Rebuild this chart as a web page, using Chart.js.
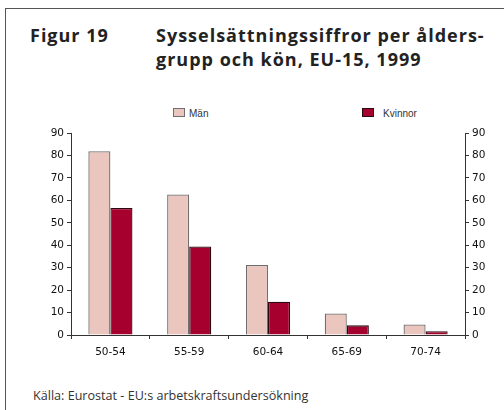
<!DOCTYPE html>
<html>
<head>
<meta charset="utf-8">
<script src="https://cdn.jsdelivr.net/npm/chart.js@4/dist/chart.umd.min.js"></script>
<style>
  html, body { margin:0; padding:0; background:#fff; }
  #wrap { position:relative; width:504px; height:410px; overflow:hidden; font-family:"Open Sans", sans-serif; }
  #frame { position:absolute; left:5px; top:8px; width:520px; height:420px; border-left:1.5px solid #555; border-top:1.5px solid #555; }
  #fig { position:absolute; left:30px; top:23px; font-weight:700; font-size:18px; letter-spacing:1px; color:#222; }
  #title { position:absolute; left:156px; top:23px; font-weight:700; font-size:18px; line-height:24px; letter-spacing:1px; color:#222; }
  #source { position:absolute; left:33px; top:387px; font-size:12.6px; color:#333; font-family:"Open Sans", sans-serif; }
  .leg { position:absolute; top:108px; font-size:10px; color:#333; font-family:"Liberation Sans", Arial, sans-serif; }
  .leg span.box { display:inline-block; width:10px; height:7px; vertical-align:0px; margin-right:4px; }
  canvas { position:absolute; left:0; top:0; }
</style>
</head>
<body>
<div id="wrap">
  <div id="frame"></div>
  <div id="fig">Figur 19</div>
  <div id="title">Sysselsättningssiffror per ålders-<br>grupp och kön, EU-15, 1999</div>
  <div id="legend"></div>
  <div id="source">Källa: Eurostat - EU:s arbetskraftsundersökning</div>
  <canvas id="c" width="504" height="410"></canvas>
</div>
<script>
const categories = ['50-54', '55-59', '60-64', '65-69', '70-74'];
const seriesNames = ['Män', 'Kvinnor'];
const manValues = [81.9, 62.6, 31.2, 9.6, 4.7];
const kvinnorValues = [56.6, 39.4, 14.8, 4.3, 1.7];
const yMin = 0, yMax = 90, yStep = 10;

const fills = ['#ebc6bf', '#a6002f'];
const borders = ['#6f6f6f', '#2a0a10'];

// legend (HTML)
const legendPos = [173, 362];
const legendGap = [4, 9];
const legend = document.getElementById('legend');
seriesNames.forEach((name, i) => {
  const d = document.createElement('div');
  d.className = 'leg';
  d.style.left = legendPos[i] + 'px';
  const b = document.createElement('span');
  b.className = 'box';
  b.style.background = fills[i];
  b.style.border = '1px solid ' + borders[i];
  b.style.marginRight = legendGap[i] + 'px';
  d.appendChild(b);
  d.appendChild(document.createTextNode(name));
  legend.appendChild(d);
});

const tickFont = { family: '"DejaVu Sans", sans-serif', size: 10.5 };
const axisColor = '#333';

function yAxis(position, width) {
  return {
    position: position,
    min: yMin, max: yMax,
    ticks: { stepSize: yStep, color: '#111', font: tickFont, padding: 3 },
    grid: { drawOnChartArea: false, drawTicks: true, tickLength: 4, color: axisColor, lineWidth: 1 },
    border: { display: true, color: axisColor, width: 1 },
    afterFit: (s) => { s.width = width; }
  };
}

new Chart(document.getElementById('c'), {
  type: 'bar',
  data: {
    labels: categories,
    datasets: [
      { label: seriesNames[0], data: manValues, backgroundColor: fills[0], borderColor: borders[0], borderWidth: 1.3, borderSkipped: 'bottom', barPercentage: 1.0, categoryPercentage: 0.56, yAxisID: 'y' },
      { label: seriesNames[1], data: kvinnorValues, backgroundColor: fills[1], borderColor: borders[1], borderWidth: 1.3, borderSkipped: 'bottom', barPercentage: 1.0, categoryPercentage: 0.56, yAxisID: 'y' }
    ]
  },
  options: {
    responsive: false,
    animation: false,
    maintainAspectRatio: false,
    layout: { padding: { left: 31, right: 4, top: 133, bottom: 45 } },
    plugins: { legend: { display: false }, tooltip: { enabled: false } },
    scales: {
      x: {
        ticks: { color: '#111', font: tickFont, padding: 7 },
        grid: { drawOnChartArea: false, drawTicks: true, tickLength: 4, color: axisColor, offset: true },
        border: { display: true, color: axisColor, width: 1 },
        afterFit: (s) => { s.height = 30; }
      },
      y: yAxis('left', 40),
      y2: yAxis('right', 35)
    }
  }
});
</script>
</body>
</html>
